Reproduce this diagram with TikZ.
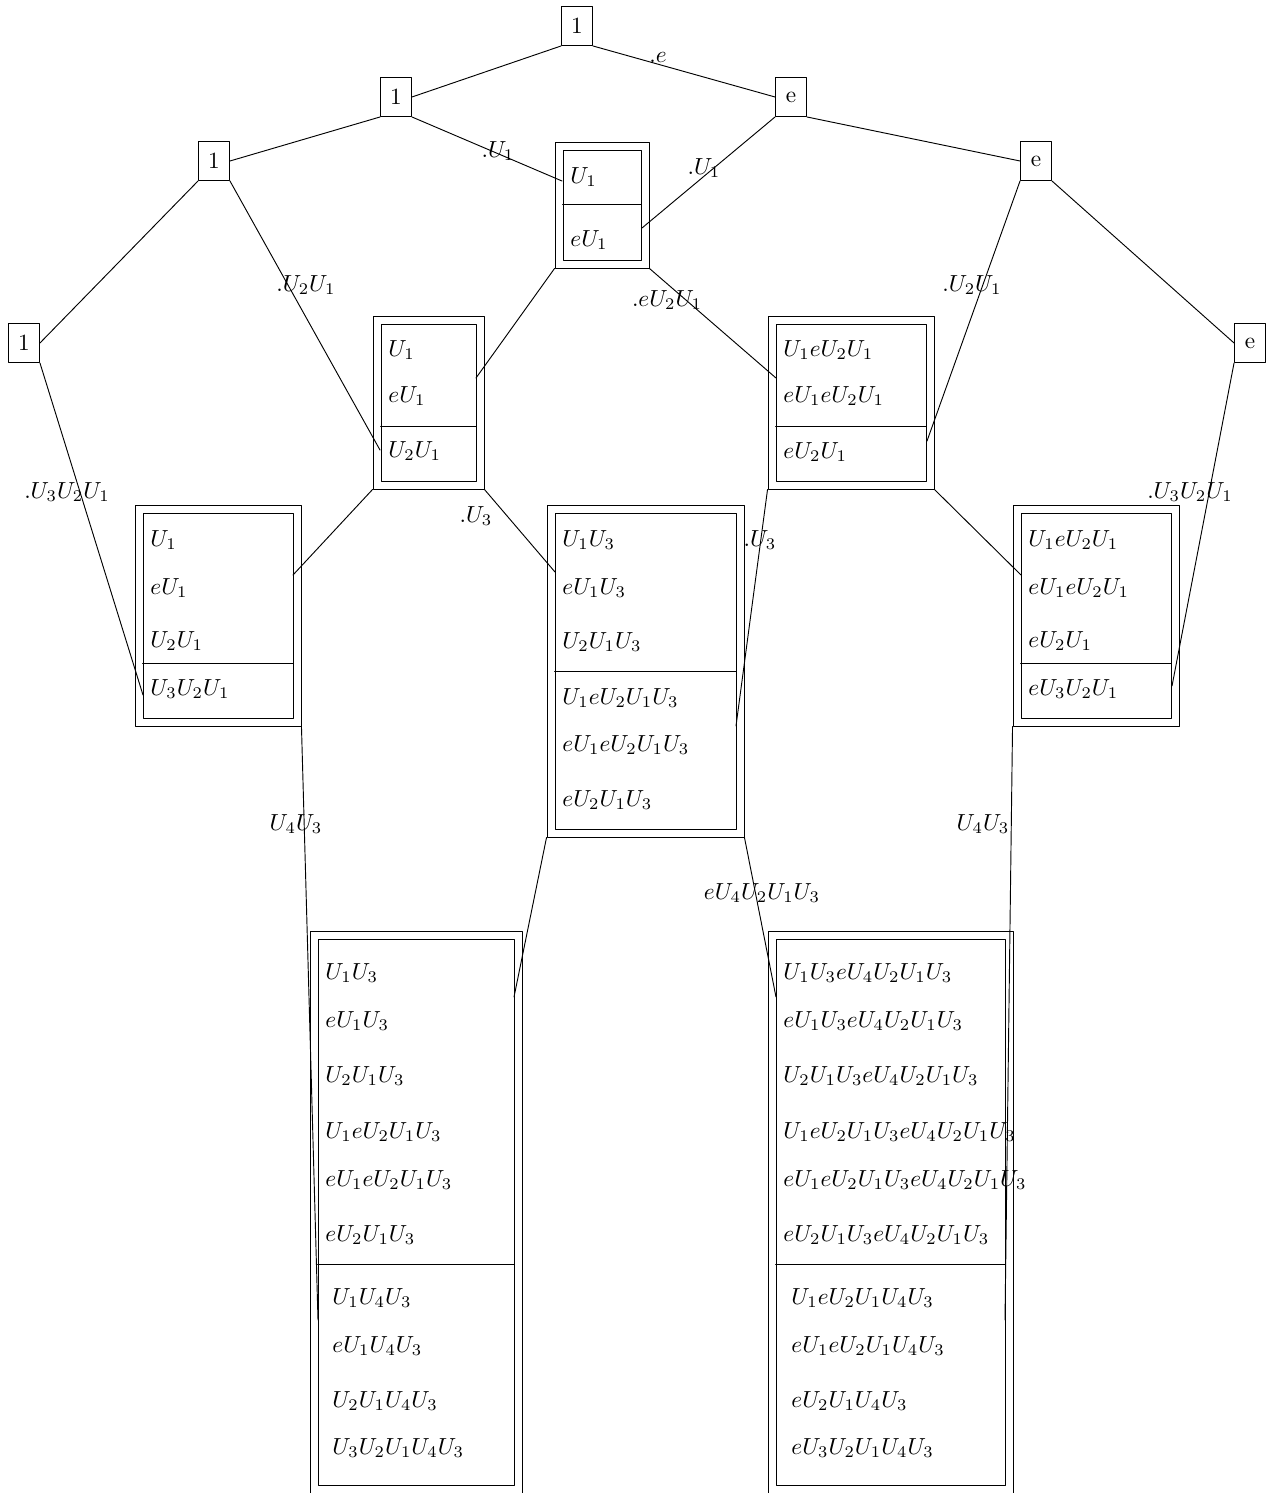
\documentclass[tikz,border=0pt]{standalone}
\usetikzlibrary{fit}
\tikzset{
  sq/.style={draw, minimum width=0.468cm, minimum height=0.589cm, inner sep=0pt},
  frame/.style={draw, inner sep=0pt},
  row/.style={anchor=west, inner sep=0pt},
  lab/.style={inner sep=0pt}
}
\begin{document}
\begin{tikzpicture}[x=0.0151cm, y=-0.0151cm, line cap=round, line join=round]
  \path[use as bounding box] (0,0) rectangle (1274,1493);
  % tree of single entries
  \node[sq] (n0) at (577,26) {1};
  \node[sq] (n1) at (396,97) {1};
  \node[sq] (e1) at (791,97) {e};
  \node[sq] (n2) at (214,161) {1};
  \node[sq] (e2) at (1036,161) {e};
  \node[sq] (n3) at (24,343) {1};
  \node[sq] (e3) at (1250,343) {e};
  % boxes: outer frame, inner frame, divider
  \node[frame, fit={(555,142) (649,268)}] (b1) {};
  \node[frame, fit={(563,150) (641,260)}] (b1i) {};
  \draw (b1i.west |- 0,204) -- (b1i.east |- 0,204);
  \node[frame, fit={(373,316) (484,489)}] (b2) {};
  \node[frame, fit={(381,324) (476,481)}] (b2i) {};
  \draw (b2i.west |- 0,426) -- (b2i.east |- 0,426);
  \node[frame, fit={(768,316) (934,489)}] (b3) {};
  \node[frame, fit={(776,324) (926,481)}] (b3i) {};
  \draw (b3i.west |- 0,426) -- (b3i.east |- 0,426);
  \node[frame, fit={(135,505) (301,726)}] (b4) {};
  \node[frame, fit={(143,513) (293,718)}] (b4i) {};
  \draw (b4i.west |- 0,663) -- (b4i.east |- 0,663);
  \node[frame, fit={(547,505) (744,837)}] (b5) {};
  \node[frame, fit={(555,513) (736,829)}] (b5i) {};
  \draw (b5i.west |- 0,671) -- (b5i.east |- 0,671);
  \node[frame, fit={(1013,505) (1179,726)}] (b6) {};
  \node[frame, fit={(1021,513) (1171,718)}] (b6i) {};
  \draw (b6i.west |- 0,663) -- (b6i.east |- 0,663);
  \node[frame, fit={(310,931) (522,1510)}] (b7) {};
  \node[frame, fit={(318,939) (514,1485)}] (b7i) {};
  \draw (b7i.west |- 0,1264) -- (b7i.east |- 0,1264);
  \node[frame, fit={(768,931) (1013,1510)}] (b8) {};
  \node[frame, fit={(776,939) (1005,1485)}] (b8i) {};
  \draw (b8i.west |- 0,1264) -- (b8i.east |- 0,1264);
  % entries
  \foreach \y/\t [count=\i] in {177/U_1, 240/eU_1}
    \node[row] (b1r\i) at (570,\y) {$\t$};
  \foreach \y/\t [count=\i] in {350/U_1, 396/eU_1, 451/U_2U_1}
    \node[row] (b2r\i) at (388,\y) {$\t$};
  \foreach \y/\t [count=\i] in {350/U_1eU_2U_1, 396/eU_1eU_2U_1, 452/eU_2U_1}
    \node[row] (b3r\i) at (783,\y) {$\t$};
  \foreach \y/\t [count=\i] in {540/U_1, 588/eU_1, 641/U_2U_1, 689/U_3U_2U_1}
    \node[row] (b4r\i) at (150,\y) {$\t$};
  \foreach \y/\t [count=\i] in {540/U_1U_3, 588/eU_1U_3, 642/U_2U_1U_3,
      698/U_1eU_2U_1U_3, 745/eU_1eU_2U_1U_3, 800/eU_2U_1U_3}
    \node[row] (b5r\i) at (562,\y) {$\t$};
  \foreach \y/\t [count=\i] in {540/U_1eU_2U_1, 588/eU_1eU_2U_1, 641/eU_2U_1,
      689/eU_3U_2U_1}
    \node[row] (b6r\i) at (1028,\y) {$\t$};
  \foreach \y/\t [count=\i] in {973/U_1U_3, 1021/eU_1U_3, 1076/U_2U_1U_3,
      1132/U_1eU_2U_1U_3, 1180/eU_1eU_2U_1U_3, 1235/eU_2U_1U_3}
    \node[row] (b7r\i) at (325,\y) {$\t$};
  \foreach \y/\t [count=\i] in {1298/U_1U_4U_3, 1346/eU_1U_4U_3,
      1401/U_2U_1U_4U_3, 1448/U_3U_2U_1U_4U_3}
    \node[row] (b7s\i) at (332,\y) {$\t$};
  \foreach \y/\t [count=\i] in {973/U_1U_3eU_4U_2U_1U_3, 1021/eU_1U_3eU_4U_2U_1U_3,
      1076/U_2U_1U_3eU_4U_2U_1U_3, 1132/U_1eU_2U_1U_3eU_4U_2U_1U_3,
      1180/eU_1eU_2U_1U_3eU_4U_2U_1U_3, 1235/eU_2U_1U_3eU_4U_2U_1U_3}
    \node[row] (b8r\i) at (783,\y) {$\t$};
  \foreach \y/\t [count=\i] in {1298/U_1eU_2U_1U_4U_3, 1346/eU_1eU_2U_1U_4U_3,
      1401/eU_2U_1U_4U_3, 1448/eU_3U_2U_1U_4U_3}
    \node[row] (b8s\i) at (791,\y) {$\t$};
  % where the connectors meet the boxes
  \coordinate (t1) at (562,181);
  \coordinate (t2) at (642,228);
  \coordinate (t3) at (380,450);
  \coordinate (t4) at (927,441);
  \coordinate (t5) at (143,695);
  \coordinate (t6) at (1172,686);
  \coordinate (t7) at (476,378);
  \coordinate (t8) at (776,378);
  \coordinate (t9) at (293,575);
  \coordinate (t10) at (555,572);
  \coordinate (t11) at (736,726);
  \coordinate (t12) at (1021,575);
  \coordinate (t13) at (318,1320);
  \coordinate (t14) at (514,997);
  \coordinate (t15) at (776,997);
  \coordinate (t16) at (1005,1320);
  % connectors
  \draw (n0.south west) -- (n1.east);
  \draw (n0.south east) -- (e1.west);
  \draw (n1.south west) -- (n2.east);
  \draw (n1.south east) -- (t1);
  \draw (e1.south east) -- (e2.west);
  \draw (e1.south west) -- (t2);
  \draw (n2.south west) -- (n3.east);
  \draw (n2.south east) -- (t3);
  \draw (e2.south west) -- (t4);
  \draw (e2.south east) -- (e3.west);
  \draw (n3.south east) -- (t5);
  \draw (e3.south west) -- (t6);
  \draw (b1.south west) -- (t7);
  \draw (b1.south east) -- (t8);
  \draw (b2.south west) -- (t9);
  \draw (b2.south east) -- (t10);
  \draw (b3.south west) -- (t11);
  \draw (b3.south east) -- (t12);
  \draw (b4.south east) -- (t13);
  \draw (b5.south west) -- (t14);
  \draw (b5.south east) -- (t15);
  \draw (b6.south west) -- (t16);
  % labels of the connectors
  \node[lab] (l1) at (658,57) {$.e$};
  \node[lab] (l2) at (498,151) {$.U_1$};
  \node[lab] (l3) at (704,168) {$.U_1$};
  \node[lab] (l4) at (306,285) {$.U_2U_1$};
  \node[lab] (l5) at (972,285) {$.U_2U_1$};
  \node[lab] (l6) at (667,300) {$.eU_2U_1$};
  \node[lab] (l7) at (67,492) {$.U_3U_2U_1$};
  \node[lab] (l8) at (1190,492) {$.U_3U_2U_1$};
  \node[lab] (l9) at (476,516) {$.U_3$};
  \node[lab] (l10) at (760,540) {$.U_3$};
  \node[lab] (l11) at (296,824) {$U_4U_3$};
  \node[lab] (l12) at (983,824) {$U_4U_3$};
  \node[lab] (l13) at (762,893) {$eU_4U_2U_1U_3$};
\end{tikzpicture}
\end{document}
